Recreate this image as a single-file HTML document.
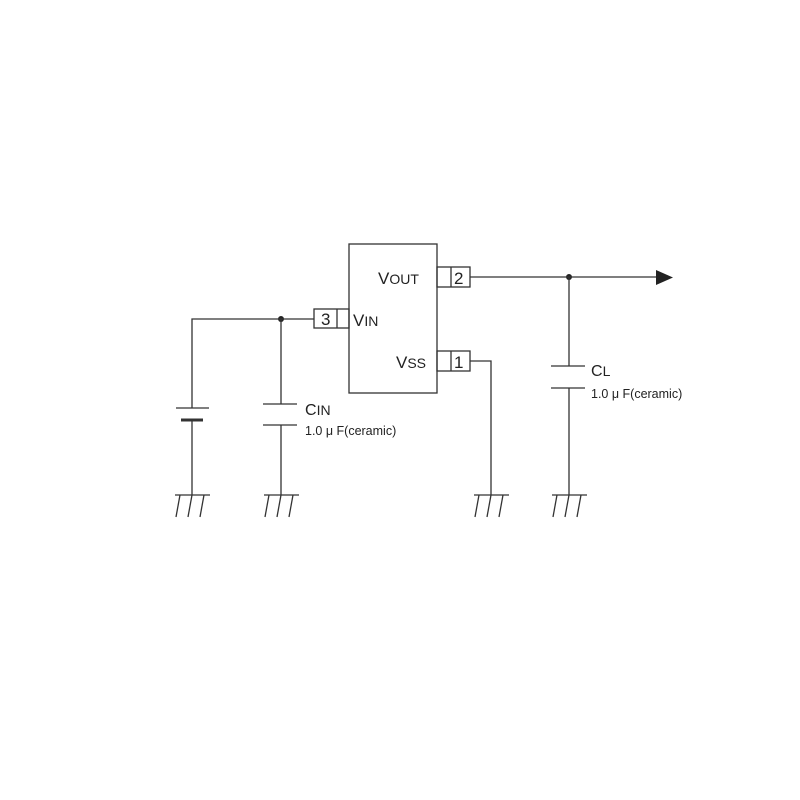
<!DOCTYPE html>
<html><head><style>body{margin:0;background:#fff}svg{display:block}</style></head><body>
<svg width="800" height="800" viewBox="0 0 800 800" xmlns="http://www.w3.org/2000/svg" font-family="Liberation Sans, sans-serif" fill="none" stroke="#333" stroke-width="1.3">
<rect x="349" y="244" width="88" height="149"/>
<rect x="314" y="309" width="35" height="19"/><line x1="337" y1="309" x2="337" y2="328"/>
<rect x="437" y="267" width="33" height="20"/><line x1="451" y1="267" x2="451" y2="287"/>
<rect x="437" y="351" width="33" height="20"/><line x1="451" y1="351" x2="451" y2="371"/>
<g fill="#222" stroke="none" font-size="17">
<text x="321" y="325">3</text><text x="454" y="284">2</text><text x="454" y="368">1</text>
<text x="378" y="284">V<tspan font-size="14">OUT</tspan></text>
<text x="353" y="326">V<tspan font-size="14">IN</tspan></text>
<text x="396" y="368">V<tspan font-size="14">SS</tspan></text>
<text x="305" y="415" font-size="16">C<tspan font-size="14">IN</tspan></text>
<text x="305" y="435" font-size="12.5">1.0 μ F(ceramic)</text>
<text x="591" y="376" font-size="16">C<tspan font-size="14">L</tspan></text>
<text x="591" y="398" font-size="12.5">1.0 μ F(ceramic)</text>
<circle cx="281" cy="319" r="3"/><circle cx="569" cy="277" r="3"/>
<polygon points="656,270 673,277.5 656,285"/>
</g>
<polyline points="314,319 192,319 192,408"/>
<line x1="281" y1="319" x2="281" y2="404"/>
<line x1="176" y1="408" x2="209" y2="408"/>
<line x1="181" y1="420" x2="203" y2="420" stroke-width="3"/>
<line x1="192" y1="420" x2="192" y2="495"/>
<line x1="263" y1="404" x2="297" y2="404"/><line x1="263" y1="425" x2="297" y2="425"/>
<line x1="281" y1="425" x2="281" y2="495"/>
<line x1="470" y1="277" x2="656" y2="277"/>
<line x1="569" y1="277" x2="569" y2="366"/>
<line x1="551" y1="366" x2="585" y2="366"/><line x1="551" y1="388" x2="585" y2="388"/>
<line x1="569" y1="388" x2="569" y2="495"/>
<polyline points="470,361 491,361 491,495"/>
<g id="g">
<line x1="175" y1="495" x2="210" y2="495"/>
<line x1="180" y1="495" x2="176" y2="517"/><line x1="192" y1="495" x2="188" y2="517"/><line x1="204" y1="495" x2="200" y2="517"/>
</g>
<use href="#g" x="89"/><use href="#g" x="299"/><use href="#g" x="377"/>
</svg>
</body></html>
